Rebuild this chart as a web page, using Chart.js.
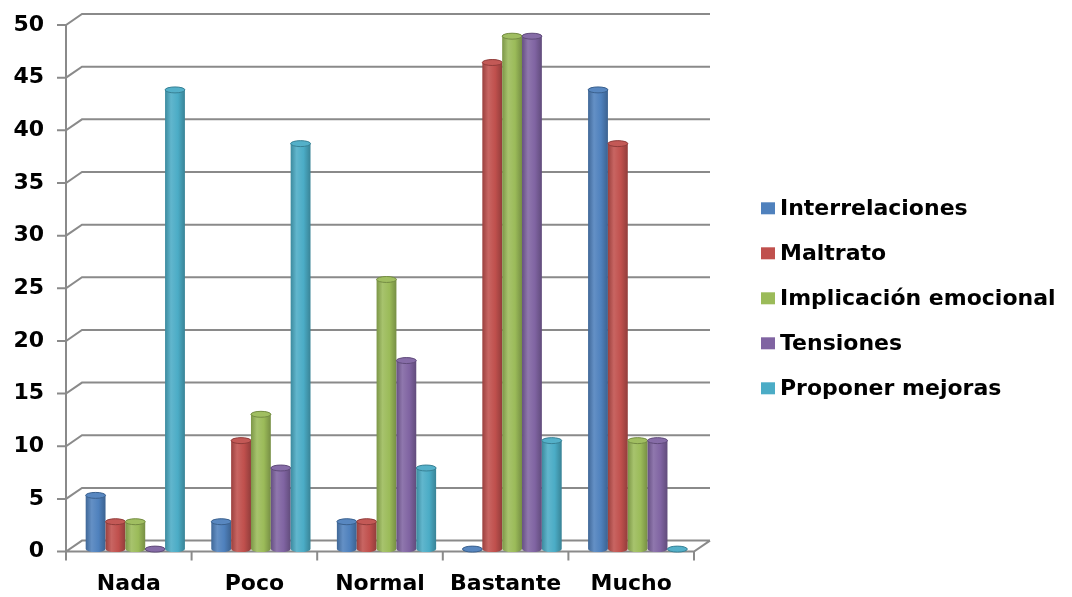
<!DOCTYPE html>
<html>
<head>
<meta charset="utf-8">
<script src="https://cdn.jsdelivr.net/npm/chart.js@4/dist/chart.umd.min.js"></script>
<style>
  body { margin: 0; background: #fff; }
</style>
</head>
<body>
<canvas id="bar_chart" width="1072" height="597"></canvas>
<script>
var categories = ["Nada", "Poco", "Normal", "Bastante", "Mucho"];
var seriesNames = ["Interrelaciones", "Maltrato", "Implicación emocional", "Tensiones", "Proponer mejoras"];
var interrelaciones = [5.1, 2.6, 2.6, 0, 43.6];
var maltrato = [2.6, 10.3, 2.6, 46.2, 38.5];
var implicacion = [2.6, 12.8, 25.6, 48.7, 10.3];
var tensiones = [0, 7.7, 17.9, 48.7, 10.3];
var proponer = [43.6, 38.5, 7.7, 10.3, 0];
var yTicks = [0, 5, 10, 15, 20, 25, 30, 35, 40, 45, 50];
var colors = ['#4F81BD', '#C0504D', '#9BBB59', '#8064A2', '#4BACC6'];

var DX = 16, DY = 11;       // depth of the 3d box
var FAMILY = "'DejaVu Sans', 'Liberation Sans', Arial, sans-serif";

function shade(hex, f) {
    var n = parseInt(hex.slice(1), 16);
    var r = (n >> 16) & 255, g = (n >> 8) & 255, b = n & 255;
    function c(v) {
        v = f >= 1 ? v + (255 - v) * (f - 1) : v * f;
        return Math.round(Math.max(0, Math.min(255, v)));
    }
    return 'rgb(' + c(r) + ',' + c(g) + ',' + c(b) + ')';
}

// draws the 3d walls and the cylinders instead of flat bars
var cylinders = {
    id: 'cylinders',
    beforeDatasetsDraw: function (chart) {
        var ctx = chart.ctx, ca = chart.chartArea;
        var ys = chart.scales.y, xs = chart.scales.x;
        ctx.save();
        ctx.strokeStyle = '#8a8a8a';
        ctx.lineWidth = 2;
        ctx.beginPath();
        yTicks.forEach(function (v) {
            var y = ys.getPixelForValue(v);
            ctx.moveTo(ca.left - 9, y);
            ctx.lineTo(ca.left, y);
            ctx.lineTo(ca.left + DX, y - DY);
            ctx.lineTo(ca.right + DX, y - DY);
        });
        ctx.moveTo(ca.left, ys.getPixelForValue(yTicks[yTicks.length - 1]));
        ctx.lineTo(ca.left, ca.bottom);
        ctx.lineTo(ca.right, ca.bottom);
        ctx.lineTo(ca.right + DX, ca.bottom - DY);
        for (var i = 0; i <= categories.length; i++) {
            var x = xs.getPixelForValue(i - 0.5);
            ctx.moveTo(x, ca.bottom);
            ctx.lineTo(x, ca.bottom + 9);
        }
        ctx.stroke();

        chart.data.datasets.forEach(function (ds, di) {
            var col = colors[di];
            chart.getDatasetMeta(di).data.forEach(function (bar) {
                var w = bar.width, cx = bar.x + 6.5;
                var l = cx - w / 2, r = cx + w / 2;
                var top = bar.y - 2.5, base = bar.base - 2.5;
                var ry = w * 0.15;
                var g = ctx.createLinearGradient(l, 0, r, 0);
                g.addColorStop(0, shade(col, 0.8));
                g.addColorStop(0.3, shade(col, 1.12));
                g.addColorStop(0.65, col);
                g.addColorStop(1, shade(col, 0.76));
                ctx.beginPath();
                ctx.moveTo(l, top);
                ctx.lineTo(l, base);
                ctx.ellipse(cx, base, w / 2, ry, 0, Math.PI, 0, true);
                ctx.lineTo(r, top);
                ctx.ellipse(cx, top, w / 2, ry, 0, 0, Math.PI, true);
                ctx.closePath();
                ctx.fillStyle = g;
                ctx.fill();
                ctx.beginPath();
                ctx.ellipse(cx, top, w / 2, ry, 0, 0, Math.PI * 2);
                ctx.fillStyle = shade(col, 1.05);
                ctx.fill();
                ctx.strokeStyle = shade(col, 0.75);
                ctx.lineWidth = 1;
                ctx.stroke();
            });
        });
        ctx.restore();
        return false;
    }
};

// legend to the right of the plot (Chart.js caps a side legend's width)
var sideLegend = {
    id: 'sideLegend',
    afterDraw: function (chart) {
        var ctx = chart.ctx, ca = chart.chartArea;
        var x0 = ca.right + 67;
        var yMid = (ca.top + ca.bottom) / 2 + 10;
        ctx.save();
        ctx.font = 'bold 22px ' + FAMILY;
        ctx.textBaseline = 'middle';
        ctx.textAlign = 'left';
        chart.data.datasets.forEach(function (ds, i) {
            var y = yMid + (i - 2) * 45;
            ctx.fillStyle = ds.backgroundColor;
            ctx.fillRect(x0, y - 6, 14, 12);
            ctx.fillStyle = '#000';
            ctx.fillText(ds.label, x0 + 19, y + 1);
        });
        ctx.restore();
    }
};

function getChartJs() {
    var series = [interrelaciones, maltrato, implicacion, tensiones, proponer];
    var config = {
        type: 'bar',
        data: {
            labels: categories,
            datasets: series.map(function (d, i) {
                return { label: seriesNames[i], data: d, backgroundColor: colors[i], borderWidth: 0 };
            })
        },
        options: {
            responsive: false,
            animation: false,
            layout: { padding: { top: 25, left: 8, right: 378, bottom: -19 } },
            datasets: { bar: { categoryPercentage: 0.79, barPercentage: 1 } },
            scales: {
                x: {
                    grid: { display: false, drawTicks: false },
                    border: { display: false },
                    ticks: { font: { family: FAMILY, size: 22, weight: 'bold' }, color: '#000', padding: 19 }
                },
                y: {
                    min: 0, max: 50,
                    grid: { display: false, drawTicks: false },
                    border: { display: false },
                    ticks: { stepSize: 5, font: { family: FAMILY, size: 22, weight: 'bold', lineHeight: 0.1 }, color: '#000', padding: 22 },
                    afterFit: function (s) { s.width = 58; }
                }
            },
            plugins: {
                legend: { display: false },
                tooltip: { enabled: false }
            }
        },
        plugins: [cylinders, sideLegend]
    };
    return config;
}

new Chart(document.getElementById("bar_chart").getContext("2d"), getChartJs());
</script>
</body>
</html>
